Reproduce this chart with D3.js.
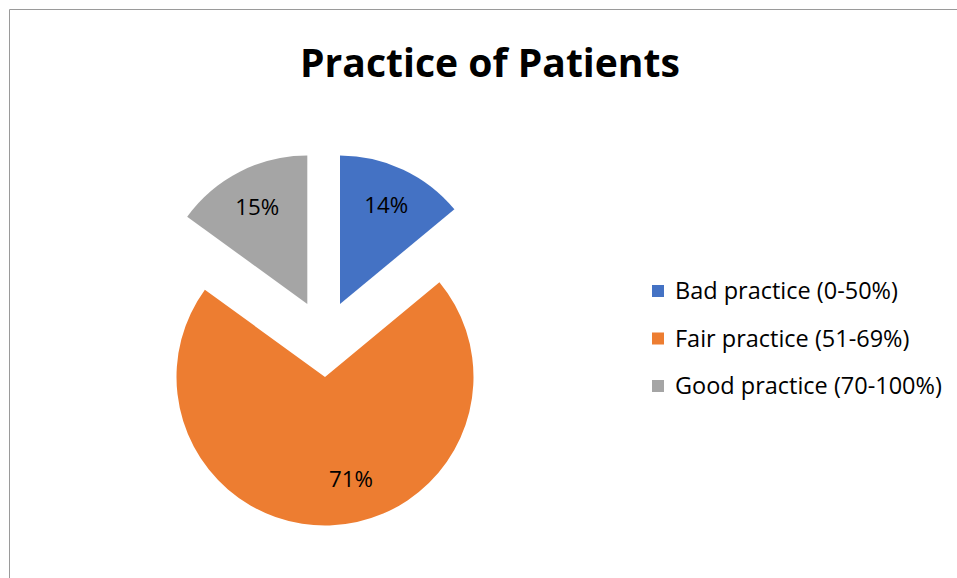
<!DOCTYPE html>
<html>
<head>
<meta charset="utf-8">
<script src="https://cdn.jsdelivr.net/npm/d3@7"></script>
<style>
  html, body { margin: 0; padding: 0; background: #fff; }
  svg { display: block; }
  text { font-variant-ligatures: none; }
</style>
</head>
<body>
<svg id="chart" width="957" height="578"></svg>
<script>
// Chart data
const categories = ["Bad practice (0-50%)", "Fair practice (51-69%)", "Good practice (70-100%)"];
const shares = [14, 71, 15];
const colors = ["#4472C4", "#ED7D31", "#A5A5A5"];
const title = "Practice of Patients";

// Layout
const W = 957, H = 578;
const FONT = "'Open Sans', Lato, Arial, sans-serif";
const center = { x: 325, y: 377 };
const radius = 148.5;
// Per-slice displacement of each exploded wedge (px)
const explode = [[15, -73], [0, 0], [-17.7, -73]];
// Per-slice label placement: [direction in degrees from 12 o'clock, fraction of radius]
const labelPlace = [[25, 0.735], [165.7, 0.71], [-27.3, 0.735]];

const svg = d3.select("#chart");

// Scale a text element's font size so that it spans the given width
function fitWidth(sel, baseSize, width) {
  const w = sel.node().getComputedTextLength();
  sel.attr("font-size", baseSize * width / w);
  return baseSize * width / w;
}

// Chart frame
svg.append("path")
  .attr("d", `M9.5,${H} L9.5,9.5 L${W},9.5`)
  .attr("fill", "none")
  .attr("stroke", "#9a9a9a")
  .attr("stroke-width", 1);

// Title
const titleText = svg.append("text")
  .attr("x", 490)
  .attr("y", 77)
  .attr("text-anchor", "middle")
  .attr("font-family", FONT)
  .attr("font-weight", 700)
  .attr("font-size", 36)
  .attr("fill", "#000")
  .text(title);
fitWidth(titleText, 36, 380);

// Pie
const pie = d3.pie().sort(null).value(d => d)(shares);
const arc = d3.arc().innerRadius(0).outerRadius(radius);

const slices = svg.append("g")
  .attr("transform", `translate(${center.x},${center.y})`)
  .selectAll("g")
  .data(pie)
  .join("g")
  .attr("transform", (d, i) => `translate(${explode[i][0]},${explode[i][1]})`);

slices.append("path")
  .attr("d", arc)
  .attr("fill", (d, i) => colors[i]);

const labels = slices.append("text")
  .attr("x", (d, i) => Math.sin(labelPlace[i][0] * Math.PI / 180) * labelPlace[i][1] * radius)
  .attr("y", (d, i) => -Math.cos(labelPlace[i][0] * Math.PI / 180) * labelPlace[i][1] * radius)
  .attr("dy", "0.35em")
  .attr("text-anchor", "middle")
  .attr("font-family", FONT)
  .attr("font-size", 20)
  .attr("fill", "#000")
  .text(d => d.data + "%");
const labelSize = fitWidth(labels.filter((d, i) => i === 0), 20, 44);
labels.attr("font-size", labelSize);

// Legend
const legendY = d3.scalePoint().domain(categories).range([291, 386]);
const legend = svg.append("g")
  .selectAll("g")
  .data(categories)
  .join("g")
  .attr("transform", d => `translate(652,${legendY(d)})`);

legend.append("rect")
  .attr("x", 0).attr("y", -6)
  .attr("width", 12).attr("height", 12)
  .attr("fill", (d, i) => colors[i]);

const legendText = legend.append("text")
  .attr("x", 23)
  .attr("dy", "0.35em")
  .attr("font-family", FONT)
  .attr("font-size", 20)
  .attr("fill", "#000")
  .text(d => d);
const legendSize = fitWidth(legendText.filter((d, i) => i === 2), 20, 267);
legendText.attr("font-size", legendSize);
</script>
</body>
</html>
